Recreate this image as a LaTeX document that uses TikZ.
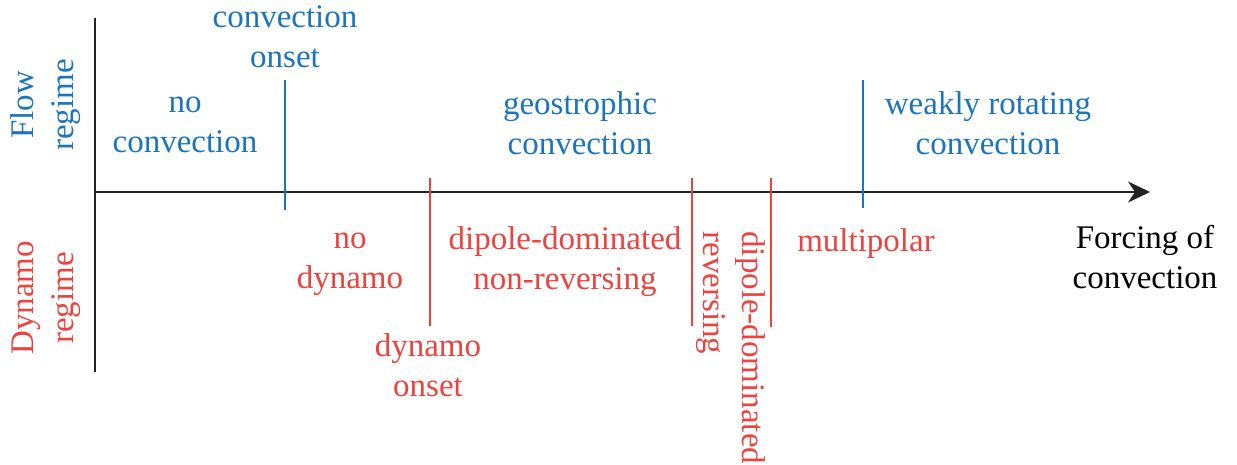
\documentclass[tikz,border=0pt]{standalone}
\usepackage{fontspec}
\setmainfont{Liberation Serif}
\newfontfamily\timeslike{Liberation Serif}
\usetikzlibrary{arrows.meta}
\definecolor{flowblue}{RGB}{28,117,188}
\definecolor{dynred}{RGB}{238,66,62}
\definecolor{axisgray}{RGB}{35,35,35}
\tikzset{
  lbl/.style={font=\timeslike\fontsize{16.5}{20}\selectfont, align=center, inner sep=0pt},
  flowlbl/.style={lbl, text=flowblue},
  dynlbl/.style={lbl, text=dynred},
  flowtick/.style={draw=flowblue, line width=0.6pt},
  dyntick/.style={draw=dynred, line width=0.6pt},
  axisline/.style={draw=axisgray, line width=1pt},
}
\begin{document}
\begin{tikzpicture}[x=0.5pt,y=-0.5pt]
\useasboundingbox (0,0) rectangle (1237,465);
% axes
\coordinate (yt) at (95,18);
\coordinate (yb) at (95,372);
\coordinate (xo) at (95,192);
\coordinate (xe) at (1150,192);
\draw[axisgray, line width=0.7pt] (yt) -- (yb);
\draw[axisline, -{Stealth[length=11pt,width=10.5pt,inset=3.5pt]}] (xo) -- (xe);
% ticks
\coordinate (b1t) at (285,80);  \coordinate (b1b) at (285,210);
\coordinate (b2t) at (863,80);  \coordinate (b2b) at (863,208);
\coordinate (r1t) at (430,178); \coordinate (r1b) at (430,326);
\coordinate (r2t) at (692,178); \coordinate (r2b) at (692,326);
\coordinate (r3t) at (771,178); \coordinate (r3b) at (771,327);
\draw[flowtick] (b1t) -- (b1b);
\draw[flowtick] (b2t) -- (b2b);
\draw[dyntick] (r1t) -- (r1b);
\draw[dyntick] (r2t) -- (r2b);
\draw[dyntick] (r3t) -- (r3b);
% side labels
\node[flowlbl, rotate=90] (flow) at (46,105) {Flow\\regime};
\node[dynlbl, rotate=90] (dyn) at (46,298) {Dynamo\\regime};
% flow labels
\node[flowlbl] (conon) at (285,37) {convection\\onset};
\node[flowlbl] (nocon) at (185,125) {no\\convection};
\node[flowlbl] (geo) at (580,123) {geostrophic\\convection};
\node[flowlbl] (weak) at (988,123) {weakly rotating\\convection};
% dynamo labels
\node[dynlbl] (nodyn) at (350,264) {no\\dynamo};
\node[dynlbl] (dipnr) at (565,262) {dipole-dominated\\non-reversing};
\node[dynlbl] (multi) at (866,244) {multipolar};
\node[dynlbl] (dynon) at (428,365) {dynamo\\onset};
\node[dynlbl, rotate=-90, anchor=west] (rev) at (711,231) {reversing};
\node[dynlbl, rotate=-90, anchor=west] (dipd) at (750,231) {dipole-dominated};
% axis label
\node[lbl, text=black] (force) at (1145,257) {Forcing of\\convection};
\end{tikzpicture}
\end{document}
